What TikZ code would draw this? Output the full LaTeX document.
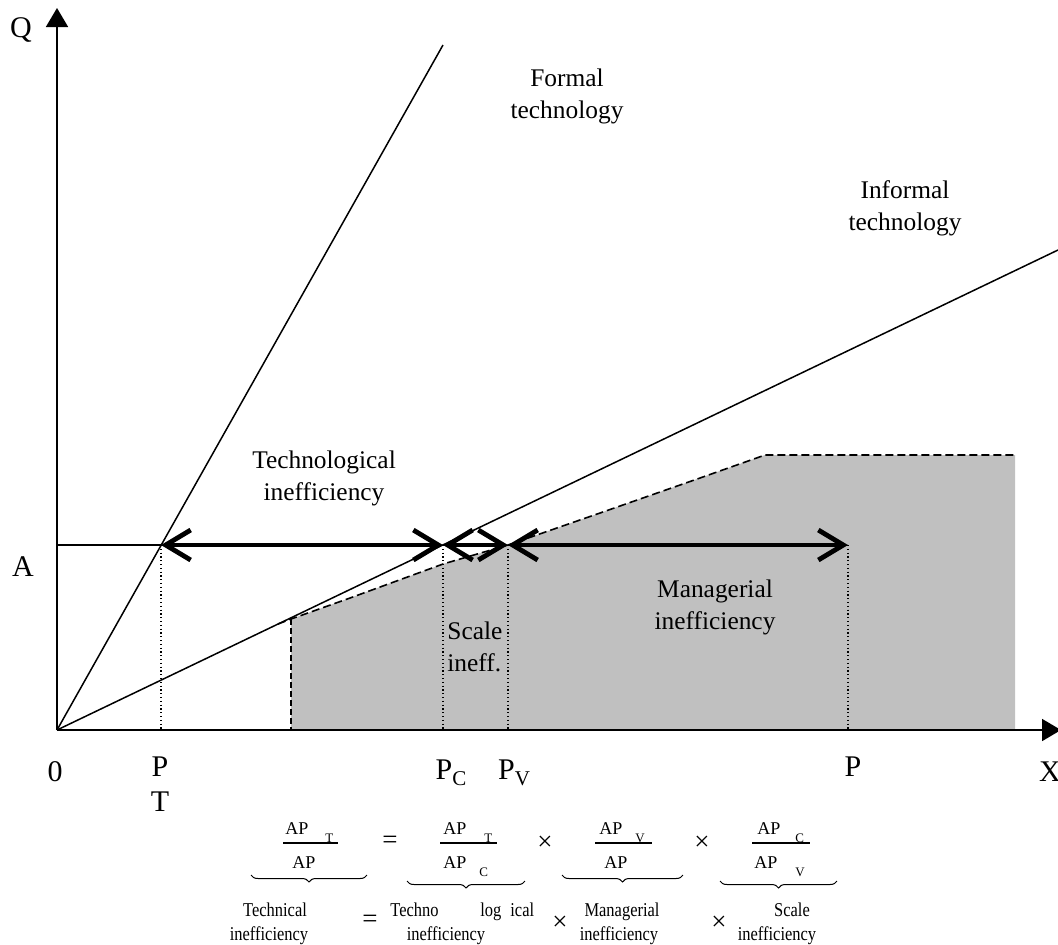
\documentclass[tikz,border=0pt]{standalone}
\usepackage{fontspec}
\setmainfont{Liberation Serif}
\newfontfamily\condfont[FakeStretch=0.84]{Liberation Serif}
\usetikzlibrary{arrows.meta,decorations.pathreplacing}
\definecolor{regiongray}{RGB}{192,192,192}
\tikzset{
  axis/.style={line width=0.9pt},
  techline/.style={line width=0.75pt},
  guide/.style={line width=0.6pt},
  dotline/.style={line width=0.7pt, dash pattern=on 0.6pt off 1.3pt},
  frontier/.style={line width=0.8pt, dash pattern=on 4pt off 2pt},
  bigarrow/.style={line width=2.2pt,
     {Straight Barb[length=12.5pt,width=15pt,line width=2.4pt]}-{Straight Barb[length=12.5pt,width=15pt,line width=2.4pt]}},
  lbl/.style={inner sep=0, align=center, font=\fontsize{12.7}{16}\selectfont},
  axlbl/.style={inner sep=0, font=\fontsize{15}{18}\selectfont},
  ap/.style={inner sep=0, anchor=base west, font=\fontsize{9}{10}\selectfont},
  subl/.style={inner sep=0, anchor=base west, font=\fontsize{6.5}{7}\selectfont},
  word/.style={inner sep=0, anchor=base, font=\condfont\fontsize{9.8}{11}\selectfont},
  op/.style={inner sep=0, font=\fontsize{13.5}{14}\selectfont},
  fracbar/.style={line width=0.8pt},
  ubrace/.style={decorate, decoration={brace, mirror, amplitude=3.5pt}, line width=0.5pt}
}
\begin{document}
\begin{tikzpicture}[x=0.5pt,y=-0.5pt]
\useasboundingbox (0,0) rectangle (1058,944);

% key points
\coordinate (O) at (57,730);
\coordinate (Ytop) at (57,8);
\coordinate (Xend) at (1061,730);
\coordinate (Fend) at (443,45);
\coordinate (Iend) at (1058,250);
\coordinate (A) at (57,545);
\coordinate (PT) at (161,545);
\coordinate (PC) at (443,545);
\coordinate (PV) at (508,545);
\coordinate (PP) at (848,545);
\coordinate (F0) at (278,624);
\coordinate (F1) at (291,619);
\coordinate (F2) at (350,598);
\coordinate (F3) at (443,564);
\coordinate (F4) at (600,513);
\coordinate (F5) at (700,478);
\coordinate (F6) at (765,455);
\coordinate (F7) at (1015,455);
\coordinate (B1) at (291,730);
\coordinate (B2) at (1015,730);

% shaded region
\fill[regiongray] (B1) -- (F1) -- (F2) -- (F3) -- (PV) -- (F4) -- (F5) -- (F6) -- (F7) -- (B2) -- cycle;

% frontier
\draw[frontier] (F0) -- (F1) -- (F2) -- (F3) -- (PV) -- (F4) -- (F5) -- (F6) -- (F7);
\draw[frontier, line width=1.4pt, dash pattern=on 3pt off 1.5pt] (F1) -- (B1);

% dotted guides
\draw[dotline] (PT) -- (PT |- O);
\draw[dotline] (PC) -- (PC |- O);
\draw[dotline] (PV) -- (PV |- O);
\draw[dotline] (PP) -- (PP |- O);

% technology rays
\draw[techline] (O) -- (Fend);
\draw[techline] (O) -- (Iend);
\draw[guide] (A) -- (PT);

% axes
\draw[axis, -{Triangle[length=9.5pt,width=11pt]}] (O) -- (Ytop);
\draw[axis, -{Triangle[length=9.5pt,width=11pt]}] (O) -- (Xend);

% efficiency arrows
\draw[bigarrow] (PT) -- (PC);
\draw[bigarrow] (PC) -- (PV);
\draw[bigarrow] (PV) -- (PP);

% labels
\node[lbl] (formal) at (567,96) {Formal\\technology};
\node[lbl] (informal) at (905,208) {Informal\\technology};
\node[lbl] (techineff) at (324,478) {Technological\\inefficiency};
\node[lbl] (manineff) at (715,607) {Managerial\\inefficiency};
\node[lbl, align=left, anchor=west] (scaleineff) at (447,647) {Scale\\ineff.};

\node[axlbl] (Q) at (21,30) {Q};
\node[axlbl] (Alab) at (23,567) {A};
\node[axlbl] (zero) at (55,772) {0};
\node[axlbl] (PTp) at (160,767) {P};
\node[axlbl] (PTt) at (160,802) {T};
\node[axlbl] (PClab) at (451,773) {P\raisebox{-3pt}{\fontsize{10.5}{12}\selectfont C}};
\node[axlbl] (PVlab) at (514,773) {P\raisebox{-3pt}{\fontsize{10.5}{12}\selectfont V}};
\node[axlbl] (Plab) at (853,767) {P};
\node[axlbl] (Xlab) at (1050,772) {X};

% formula, top row
\node[ap] (n1) at (285,834) {AP};
\node[subl] (n1s) at (325,842) {T};
\draw[fracbar] (283,843) -- (338,843);
\node[ap] (d1) at (292,868) {AP};
\draw[ubrace] (251,875) -- (367,875);

\node[op] (eq1) at (390,842) {=};

\node[ap] (n2) at (443,834) {AP};
\node[subl] (n2s) at (484,842) {T};
\draw[fracbar] (440,843) -- (497,843);
\node[ap] (d2) at (443,868) {AP};
\node[subl] (d2s) at (479,876) {C};
\draw[ubrace] (407,881) -- (525,881);

\node[op] (x1) at (545,843) {×};

\node[ap] (n3) at (599,834) {AP};
\node[subl] (n3s) at (635,842) {V};
\draw[fracbar] (595,843) -- (652,843);
\node[ap] (d3) at (604,868) {AP};
\draw[ubrace] (562,875) -- (683,875);

\node[op] (x2) at (702,843) {×};

\node[ap] (n4) at (757,834) {AP};
\node[subl] (n4s) at (795,842) {C};
\draw[fracbar] (752,843) -- (810,843);
\node[ap] (d4) at (754,868) {AP};
\node[subl] (d4s) at (795,876) {V};
\draw[ubrace] (720,881) -- (837,881);

% formula, bottom row
\node[word] (w1a) at (275,916) {Technical};
\node[word] (w1b) at (269,940) {inefficiency};
\node[op] (eq2) at (370,921) {=};
\node[word, anchor=base west] (w2a) at (390,916) {Techno};
\node[word, anchor=base west] (w2b) at (480,916) {log};
\node[word, anchor=base west] (w2c) at (510,916) {ical};
\node[word] (w2d) at (446,940) {inefficiency};
\node[op] (x3) at (560,923) {×};
\node[word] (w3a) at (622,916) {Managerial};
\node[word] (w3b) at (619,940) {inefficiency};
\node[op] (x4) at (719,923) {×};
\node[word] (w4a) at (792,916) {Scale};
\node[word] (w4b) at (777,940) {inefficiency};
\end{tikzpicture}
\end{document}
